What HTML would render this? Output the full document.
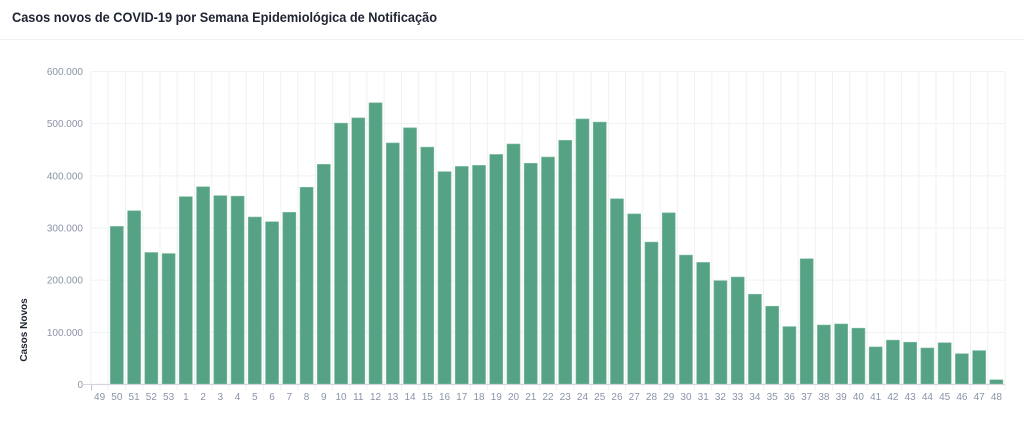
<!DOCTYPE html>
<html><head><meta charset="utf-8"><style>
body{margin:0;background:#fff;width:1024px;height:422px;overflow:hidden;font-family:"Liberation Sans",sans-serif}
</style></head><body>
<svg id="s" width="1024" height="422" xmlns="http://www.w3.org/2000/svg">
<text x="12" y="22" font-family="Liberation Sans, sans-serif" font-weight="bold" font-size="14" fill="#1f2433" textLength="425" lengthAdjust="spacingAndGlyphs">Casos novos de COVID-19 por Semana Epidemiológica de Notificação</text>
<line x1="0" y1="39.5" x2="1024" y2="39.5" stroke="#eef0f4"/>
<text transform="translate(27,330) rotate(-90)" text-anchor="middle" font-size="10" font-weight="bold" fill="#1f2433">Casos Novos</text>
<g id="g"></g>
</svg>
<script>
var v=[0,303,333,253,251,360,379,362,361,321,312,330,378,422,501,511,540,463,492,455,408,418,420,441,461,424,436,468,509,503,356,327,273,329,248,234,199,206,173,150,111,241,114,116,108,72,85,81,70,80,59,65,9];
var labs=[49,50,51,52,53];for(var i=1;i<=48;i++)labs.push(i);
var x0=91,x1=1005,y0=384.5,yt=71.5,w=(x1-x0)/53,k=(y0-yt)/600;
var h='';
for(var i=0;i<=53;i++){var x=(x0+i*w).toFixed(1);h+='<line x1="'+x+'" y1="'+yt+'" x2="'+x+'" y2="'+y0+'" stroke="#eef1f6"/>';
 if(i>0)h+='<line x1="'+x+'" y1="'+y0+'" x2="'+x+'" y2="'+(y0+6)+'" stroke="#eef1f6"/>';}
for(var j=0;j<=6;j++){var y=y0-j*100*k;h+='<line x1="'+x0+'" y1="'+y+'" x2="'+x1+'" y2="'+y+'" stroke="#eef1f6"/>';
 h+='<text x="83" y="'+(y+3.5)+'" text-anchor="end" font-size="10" fill="#8a93a8">'+(j?j*100+'.000':'0')+'</text>';}
for(var i=0;i<53;i++){var c=x0+(i+0.5)*w,bh=v[i]*k;
 if(bh>0)h+='<rect x="'+(c-6.5)+'" y="'+(y0-bh)+'" width="13" height="'+bh+'" fill="#55a384" stroke="#7dbb9f" stroke-width="0.6"/>';
 h+='<text x="'+c+'" y="400" text-anchor="middle" font-size="10" fill="#8a93a8">'+labs[i]+'</text>';}
h+='<line x1="'+x0+'" y1="'+y0+'" x2="'+x1+'" y2="'+y0+'" stroke="#d3d7de" stroke-width="1.2"/>';
h+='<line x1="'+x0+'.5" y1="'+y0+'" x2="'+x0+'.5" y2="'+(y0+6)+'" stroke="#c3c8d0"/>';
h+='<line x1="82" y1="'+y0+'" x2="'+x0+'" y2="'+y0+'" stroke="#d3d7de"/>';
document.getElementById('g').innerHTML=h;
</script>
</body></html>
